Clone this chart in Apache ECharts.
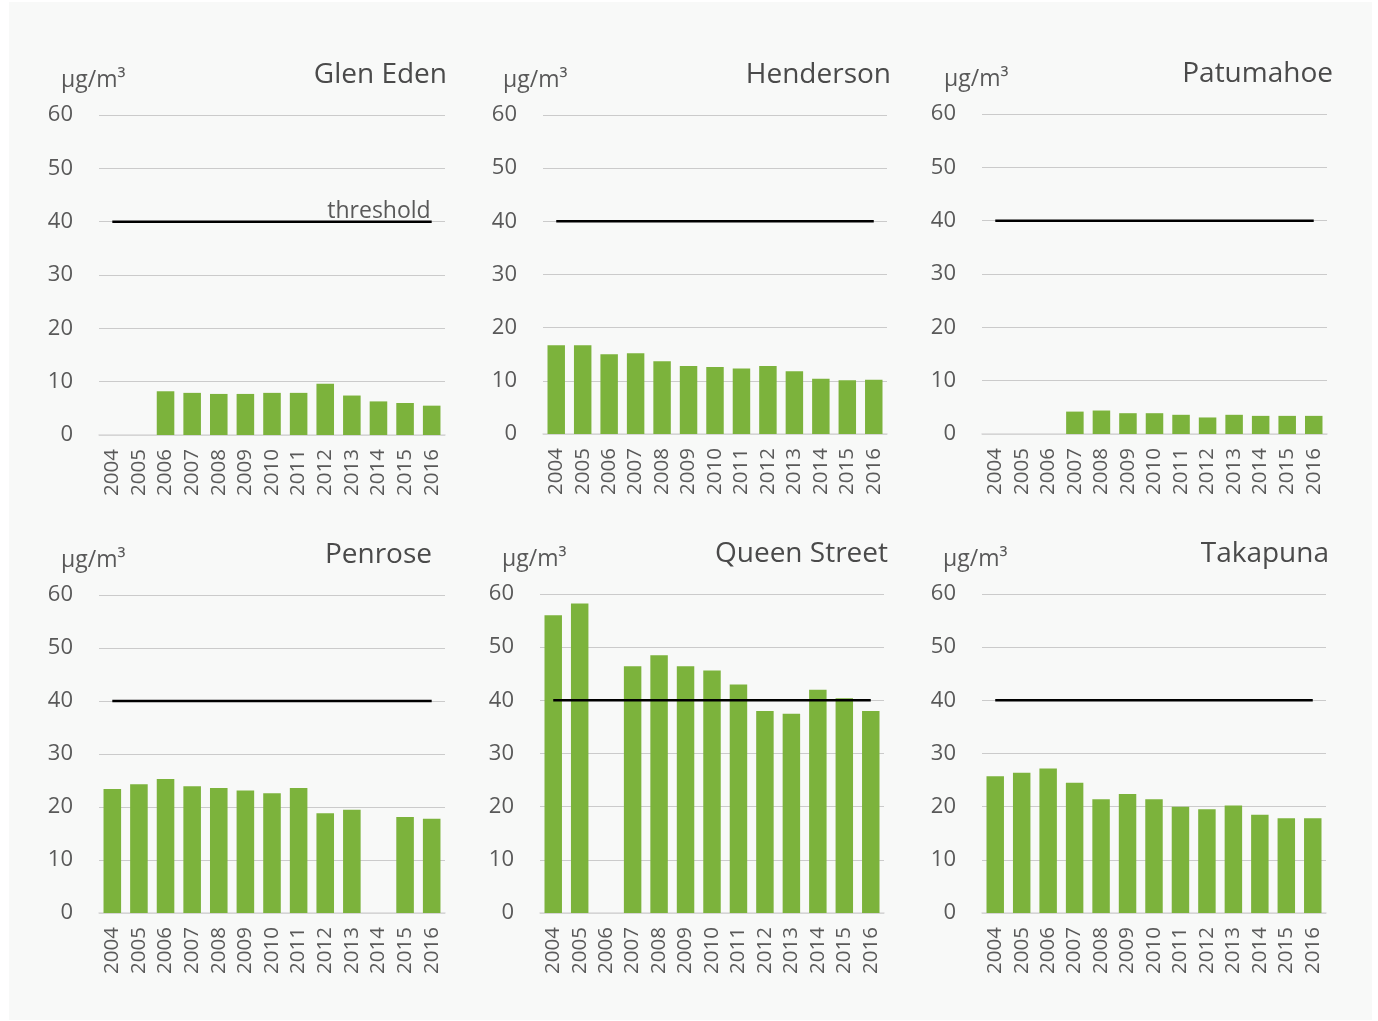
<!DOCTYPE html>
<html>
<head>
<meta charset="utf-8">
<script src="https://cdn.jsdelivr.net/npm/echarts@6/dist/echarts.min.js"></script>
<style>
html,body{margin:0;padding:0;background:#ffffff;}
#main{width:1378px;height:1021px;}
</style>
</head>
<body>
<div id="main"></div>
<script>
// ---- data ----
var years = ['2004','2005','2006','2007','2008','2009','2010','2011','2012','2013','2014','2015','2016'];
var stations = ['Glen Eden','Henderson','Patumahoe','Penrose','Queen Street','Takapuna'];
var unitLabel = 'µg/m³';
var thresholdValue = 40;
var thresholdLabel = 'threshold';
var yTicks = [0, 10, 20, 30, 40, 50, 60];
var glenEden   = [null, null, 8.2, 7.9, 7.7, 7.7, 7.9, 7.9, 9.6, 7.4, 6.3, 6.0, 5.5];
var henderson  = [16.7, 16.7, 15.0, 15.2, 13.7, 12.8, 12.6, 12.3, 12.8, 11.8, 10.4, 10.1, 10.2];
var patumahoe  = [null, null, null, 4.2, 4.4, 3.9, 3.9, 3.6, 3.1, 3.6, 3.4, 3.4, 3.4];
var penrose    = [23.4, 24.3, 25.3, 23.9, 23.6, 23.1, 22.6, 23.6, 18.8, 19.5, null, 18.1, 17.8];
var queenSt    = [56.0, 58.2, null, 46.4, 48.5, 46.4, 45.6, 43.0, 38.0, 37.5, 42.0, 40.4, 38.0];
var takapuna   = [25.7, 26.4, 27.2, 24.5, 21.4, 22.4, 21.4, 20.0, 19.5, 20.2, 18.5, 17.8, 17.8];
var seriesData = [glenEden, henderson, patumahoe, penrose, queenSt, takapuna];

// ---- layout (positions only) ----
var panels = [
  {left: 99,  top: 115, width: 346, height: 320, unitX: 61,  titleR: 447},
  {left: 543, top: 115, width: 344, height: 319, unitX: 503, titleR: 891},
  {left: 982, top: 114, width: 345, height: 320, unitX: 944, titleR: 1333},
  {left: 99,  top: 595, width: 346, height: 318, unitX: 61,  titleR: 432},
  {left: 540, top: 594, width: 344, height: 319, unitX: 502, titleR: 888},
  {left: 982, top: 594, width: 344, height: 319, unitX: 943, titleR: 1329}
];
var FONT = '"Open Sans", "Noto Sans", sans-serif';
var TXT = '#595959';
var BAR = '#7cb33c';

var grids = [], xAxes = [], yAxes = [], series = [], titles = [];
panels.forEach(function(p, i){
  grids.push({left: p.left, top: p.top, width: p.width, height: p.height, containLabel: false});
  xAxes.push({
    type: 'category', gridIndex: i, data: years, boundaryGap: true,
    axisTick: {show: false},
    axisLine: {show: true, lineStyle: {color: '#d9d9d9', width: 1.5}},
    axisLabel: {rotate: 90, color: TXT, fontFamily: FONT, fontSize: 20.5, margin: 14, interval: 0}
  });
  yAxes.push({
    type: 'value', gridIndex: i, min: yTicks[0], max: yTicks[yTicks.length-1], interval: yTicks[1]-yTicks[0],
    axisLine: {show: false}, axisTick: {show: false},
    splitLine: {show: true, lineStyle: {color: '#cbcbcb', width: 1}},
    axisLabel: {color: TXT, fontFamily: FONT, fontSize: 22, margin: 26}
  });
  series.push({
    type: 'bar', xAxisIndex: i, yAxisIndex: i, data: seriesData[i],
    barWidth: '66%', itemStyle: {color: BAR}, silent: true, animation: false
  });
  series.push({
    type: 'line', xAxisIndex: i, yAxisIndex: i,
    data: years.map(function(){ return thresholdValue; }),
    symbol: 'none', lineStyle: {color: '#000000', width: 2.5}, silent: true, animation: false,
    endLabel: i === 0 ? {show: true, formatter: thresholdLabel, color: TXT, fontFamily: FONT, fontSize: 23,
      align: 'right', verticalAlign: 'bottom', offset: [-1, 1], distance: 0} : {show: false}
  });
  titles.push({
    text: unitLabel, left: p.unitX, top: p.top - 46, padding: 0,
    textStyle: {color: TXT, fontFamily: FONT, fontSize: 23, fontWeight: 'normal'}
  });
  titles.push({
    text: stations[i], right: 1378 - p.titleR, top: p.top - 54, padding: 0,
    textStyle: {color: '#4a4a4a', fontFamily: FONT, fontSize: 28, fontWeight: 'normal'}
  });
});

var chart = echarts.init(document.getElementById('main'), null, {renderer: 'canvas'});
chart.setOption({
  backgroundColor: '#ffffff',
  animation: false,
  graphic: [{type: 'rect', left: 9, top: 2, shape: {width: 1363, height: 1018}, style: {fill: '#f8f9f8'}, z: -10, silent: true}],
  title: titles,
  grid: grids,
  xAxis: xAxes,
  yAxis: yAxes,
  series: series
});
</script>
</body>
</html>
